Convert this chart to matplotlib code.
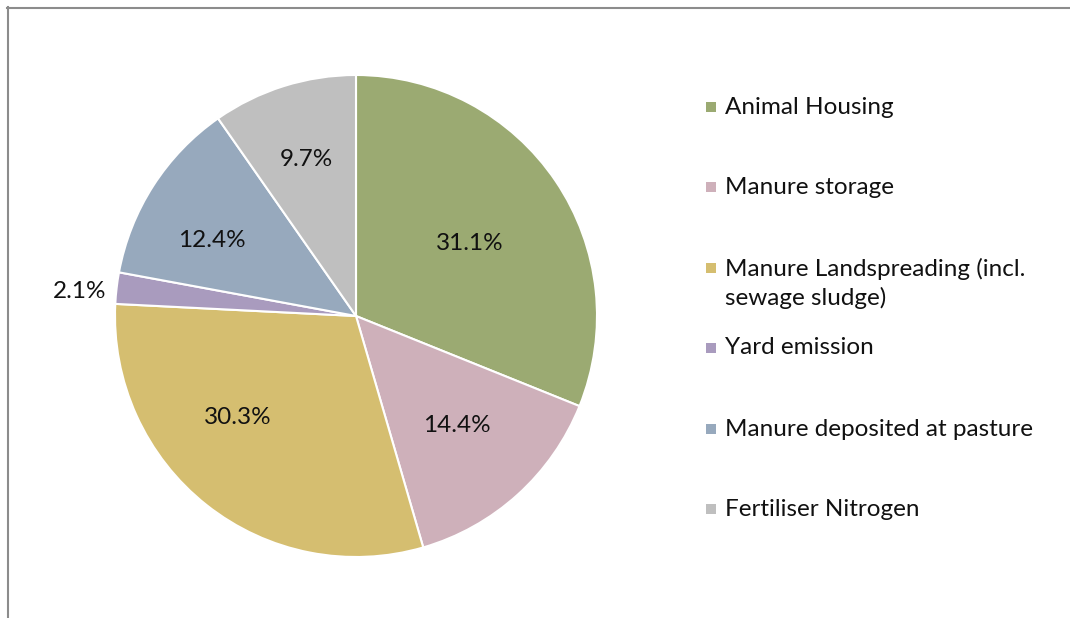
import numpy as np
import matplotlib
matplotlib.use("Agg")
import matplotlib.pyplot as plt
from matplotlib.lines import Line2D
from matplotlib.patches import Rectangle

categories = ["Animal Housing", "Manure storage", "Manure Landspreading (incl.\nsewage sludge)",
              "Yard emission", "Manure deposited at pasture", "Fertiliser Nitrogen"]
values = [31.1, 14.4, 30.3, 2.1, 12.4, 9.7]
colors = ["#9BAA72", "#CEB0BA", "#D5BE70", "#A99BBE", "#97A9BD", "#BFBFBF"]
# label placement (polar, in pie-radius units) as in the original "best fit" layout
label_angle = [32.6, -47.4, -139.2, 175.0, 152.5, 107.8]
label_dist = [0.562, 0.62, 0.647, 1.15, 0.674, 0.68]

plt.rcParams['font.family'] = ['Lato', 'DejaVu Sans']

W, H = 1070, 618
fig = plt.figure(figsize=(W / 100, H / 100), dpi=100)
fig.patch.set_facecolor("white")

cx, cy, r = 356, 316, 241
ax = fig.add_axes([(cx - r) / W, (H - cy - r) / H, 2 * r / W, 2 * r / H])
wedges, _ = ax.pie(values, colors=colors, startangle=90, counterclock=False, radius=1,
                   wedgeprops=dict(edgecolor="white", linewidth=1.5))
ax.set_xlim(-1, 1)
ax.set_ylim(-1, 1)
ax.set_aspect("equal")
ax.axis("off")

for v, a, d in zip(values, label_angle, label_dist):
    ang = np.deg2rad(a)
    ax.text(d * np.cos(ang), d * np.sin(ang), f"{v:.1f}%", ha="center", va="center",
            fontsize=17.5, color="#111111")

# legend
legend_y = [107, 187, 268, 348, 429, 509]
for cat, col, y in zip(categories, colors, legend_y):
    fig.patches.append(Rectangle((706 / W, (H - y - 5) / H), 10 / W, 10 / H,
                                 transform=fig.transFigure, facecolor=col, edgecolor="none"))
    ty = (268 + 299) / 2 if "\n" in cat else y
    fig.text(725 / W, (H - ty) / H, cat, ha="left", va="center",
             fontsize=17.5, color="#111111", linespacing=1.4)

fig.add_artist(Line2D([7 / W, 1069 / W], [(H - 7.5) / H, (H - 7.5) / H],
                      transform=fig.transFigure, color="#8C8C8C", linewidth=1.5))
fig.add_artist(Line2D([7.5 / W, 7.5 / W], [0, (H - 7) / H],
                      transform=fig.transFigure, color="#8C8C8C", linewidth=1.5))

fig.savefig("out.png", dpi=100, facecolor="white")
